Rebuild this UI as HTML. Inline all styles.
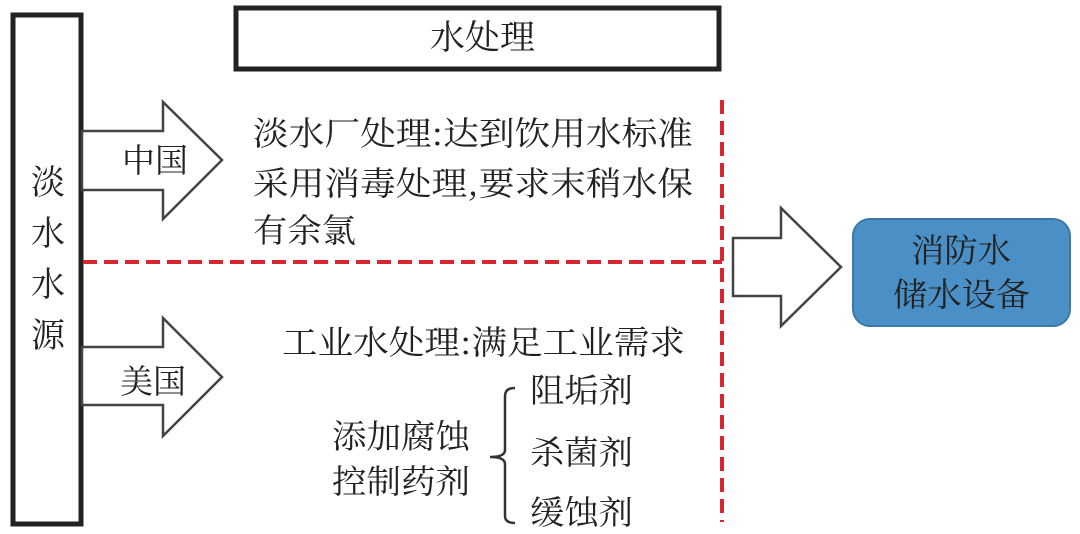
<!DOCTYPE html>
<html><head><meta charset="utf-8"><style>
html,body{margin:0;padding:0;background:#fff;width:1080px;height:534px;overflow:hidden}
svg text{font-family:"Noto Serif CJK SC","Liberation Serif",serif;fill:#222}
</style></head><body>
<svg width="1080" height="534" viewBox="0 0 1080 534" xmlns="http://www.w3.org/2000/svg">
<rect x="13" y="15" width="68" height="509" fill="#fff" stroke="#222" stroke-width="5"/>
<rect x="236" y="8" width="483" height="61" fill="#fff" stroke="#222" stroke-width="5"/>
<text x="430" y="49" font-size="34" textLength="105" lengthAdjust="spacingAndGlyphs">水处理</text>
<g font-size="34" text-anchor="middle">
<text x="48" y="194">淡</text><text x="48" y="245">水</text><text x="48" y="296">水</text><text x="48" y="347">源</text>
</g>
<polygon points="82,131 163,131 163,102 222,160 163,219 163,190 82,190" fill="#fff" stroke="#444" stroke-width="2.5"/>
<text x="122" y="172" font-size="33" textLength="66" lengthAdjust="spacingAndGlyphs">中国</text>
<polygon points="82,347 163,347 163,318 222,377 163,436 163,405 82,405" fill="#fff" stroke="#444" stroke-width="2.5"/>
<text x="120" y="393" font-size="33" textLength="66" lengthAdjust="spacingAndGlyphs">美国</text>
<line x1="83" y1="262" x2="722" y2="262" stroke="#d9252f" stroke-width="4" stroke-dasharray="14,7"/>
<line x1="722" y1="100" x2="722" y2="522" stroke="#d9252f" stroke-width="4" stroke-dasharray="14,7"/>
<polygon points="733,238 781,238 781,208 841,267 781,326 781,296 733,296" fill="#fff" stroke="#444" stroke-width="2.5"/>
<rect x="853" y="219" width="217" height="107" rx="17" fill="#4a90c6" stroke="#3a78a8" stroke-width="2"/>
<text x="911" y="262" font-size="33" textLength="100" lengthAdjust="spacingAndGlyphs">消防水</text>
<text x="893" y="306" font-size="33" textLength="137" lengthAdjust="spacingAndGlyphs">储水设备</text>
<g font-size="33">
<text x="253" y="145" textLength="440" lengthAdjust="spacingAndGlyphs">淡水厂处理:达到饮用水标准</text>
<text x="253" y="195" textLength="440" lengthAdjust="spacingAndGlyphs">采用消毒处理,要求末稍水保</text>
<text x="253" y="242" textLength="103" lengthAdjust="spacingAndGlyphs">有余氯</text>
<text x="282" y="354" textLength="403" lengthAdjust="spacingAndGlyphs">工业水处理:满足工业需求</text>
<text x="332" y="448" textLength="138" lengthAdjust="spacingAndGlyphs">添加腐蚀</text>
<text x="332" y="493" textLength="138" lengthAdjust="spacingAndGlyphs">控制药剂</text>
<text x="530" y="402" textLength="103" lengthAdjust="spacingAndGlyphs">阻垢剂</text>
<text x="530" y="464" textLength="103" lengthAdjust="spacingAndGlyphs">杀菌剂</text>
<text x="530" y="524" textLength="103" lengthAdjust="spacingAndGlyphs">缓蚀剂</text>
</g>
<path d="M515,388 Q505,388 505,396 L505,450 Q505,457 490,457 Q505,457 505,464 L505,516 Q505,523 515,523" fill="none" stroke="#333" stroke-width="2.5"/>
</svg>
</body></html>
